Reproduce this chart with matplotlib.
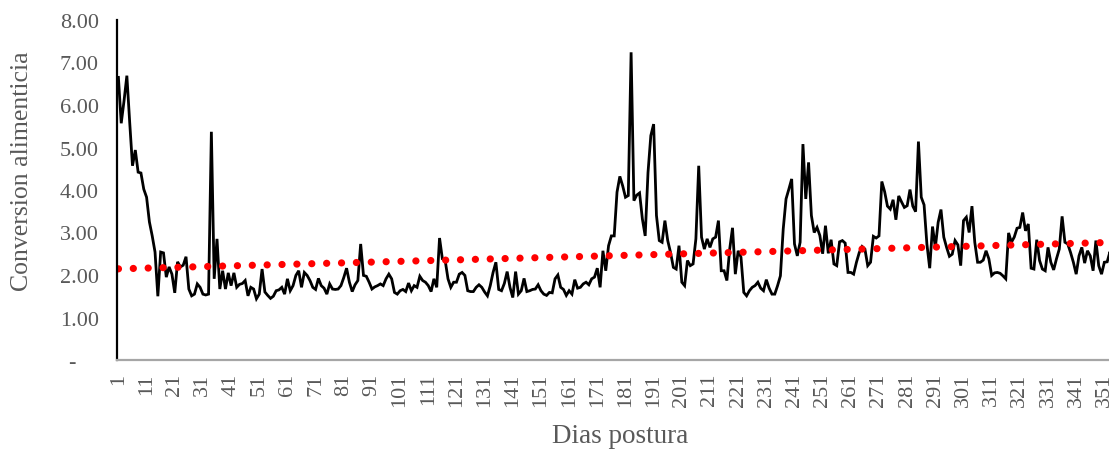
import numpy as np
import matplotlib
matplotlib.use("Agg")
import matplotlib.pyplot as plt

# daily feed conversion (day 1 .. 354)
conversion = [
    6.65, 5.57, 6.10, 6.69, 5.60, 4.57, 4.94, 4.42, 4.40, 4.02,
    3.83, 3.25, 2.92, 2.54, 1.50, 2.54, 2.52, 1.95, 2.19, 2.02,
    1.58, 2.31, 2.19, 2.23, 2.43, 1.67, 1.51, 1.55, 1.79, 1.71,
    1.55, 1.53, 1.55, 5.37, 1.91, 2.85, 1.67, 2.10, 1.67, 2.05,
    1.75, 2.05, 1.71, 1.78, 1.80, 1.87, 1.51, 1.71, 1.67, 1.44,
    1.55, 2.14, 1.60, 1.52, 1.45, 1.50, 1.63, 1.65, 1.71, 1.55,
    1.91, 1.63, 1.75, 1.99, 2.10, 1.71, 2.06, 1.99, 1.87, 1.71,
    1.66, 1.92, 1.75, 1.69, 1.55, 1.79, 1.67, 1.66, 1.67, 1.75,
    1.94, 2.16, 1.83, 1.61, 1.77, 1.87, 2.73, 1.99, 1.97, 1.83,
    1.67, 1.72, 1.75, 1.79, 1.75, 1.91, 2.02, 1.91, 1.59, 1.55,
    1.63, 1.66, 1.61, 1.81, 1.63, 1.75, 1.71, 1.97, 1.87, 1.83,
    1.75, 1.61, 1.91, 1.71, 2.87, 2.38, 2.34, 1.91, 1.71, 1.83,
    1.83, 2.02, 2.06, 1.99, 1.63, 1.61, 1.61, 1.71, 1.77, 1.71,
    1.60, 1.51, 1.75, 2.06, 2.30, 1.66, 1.63, 1.80, 2.08, 1.71,
    1.47, 2.08, 1.55, 1.63, 1.92, 1.61, 1.63, 1.66, 1.67, 1.77,
    1.63, 1.55, 1.52, 1.59, 1.58, 1.91, 2.00, 1.71, 1.66, 1.52,
    1.63, 1.55, 1.89, 1.69, 1.71, 1.79, 1.83, 1.77, 1.91, 1.95,
    2.16, 1.71, 2.57, 2.10, 2.69, 2.92, 2.92, 3.95, 4.32, 4.10,
    3.83, 3.87, 7.24, 3.75, 3.88, 3.93, 3.32, 2.92, 4.41, 5.28,
    5.55, 3.40, 2.81, 2.77, 3.28, 2.81, 2.53, 2.18, 2.14, 2.69,
    1.83, 1.75, 2.34, 2.22, 2.26, 2.85, 4.57, 2.89, 2.61, 2.85,
    2.65, 2.85, 2.89, 3.28, 2.10, 2.10, 1.87, 2.61, 3.11, 2.02,
    2.57, 2.42, 1.59, 1.51, 1.63, 1.71, 1.75, 1.83, 1.69, 1.63,
    1.89, 1.69, 1.55, 1.55, 1.75, 1.98, 3.08, 3.79, 4.02, 4.26,
    2.73, 2.45, 2.77, 5.08, 3.79, 4.65, 3.40, 3.00, 3.12, 2.93,
    2.50, 3.16, 2.51, 2.83, 2.26, 2.22, 2.78, 2.81, 2.75, 2.06,
    2.06, 2.02, 2.30, 2.53, 2.67, 2.61, 2.22, 2.30, 2.91, 2.87,
    2.92, 4.20, 3.96, 3.62, 3.55, 3.77, 3.30, 3.86, 3.72, 3.59,
    3.63, 4.01, 3.62, 3.49, 5.14, 3.83, 3.65, 2.73, 2.16, 3.14,
    2.65, 3.24, 3.54, 2.89, 2.65, 2.44, 2.49, 2.81, 2.71, 2.22,
    3.28, 3.36, 3.00, 3.62, 2.77, 2.30, 2.30, 2.35, 2.57, 2.38,
    1.99, 2.05, 2.06, 2.04, 1.98, 1.91, 2.99, 2.77, 2.89, 3.10,
    3.12, 3.47, 3.04, 3.20, 2.16, 2.14, 2.83, 2.34, 2.14, 2.10,
    2.65, 2.30, 2.12, 2.38, 2.61, 3.38, 2.77, 2.73, 2.53, 2.30,
    2.02, 2.45, 2.65, 2.28, 2.57, 2.45, 2.10, 2.81, 2.22, 2.02,
    2.30, 2.31, 2.55, 2.25,
]
dias = np.arange(1, len(conversion) + 1)
xtick_days = list(range(1, 361, 10))
ytick_vals = [0, 1, 2, 3, 4, 5, 6, 7, 8]
ytick_labels = ["-    ", "1.00", "2.00", "3.00", "4.00", "5.00", "6.00", "7.00", "8.00"]

plt.rcParams["font.family"] = ["Liberation Serif", "DejaVu Serif"]
grey = "#595959"

fig = plt.figure(figsize=(11.09, 4.52), dpi=100)
n_axis = 365
ax = fig.add_axes([117 / 1109, 91 / 452, n_axis * 2.817 / 1109, 340 / 452])

ax.plot(dias, conversion, color="black", lw=2.0, solid_joinstyle="miter")

# linear trend, as the spreadsheet draws it
coef = np.polyfit(dias, conversion, 1)
ax.plot(dias, np.polyval(coef, dias), color="#ff0000", lw=5.2,
        linestyle=(0, (0.01, 2.05)), dash_capstyle="round")

ax.set_xlim(0.5, n_axis + 0.5)
ax.set_ylim(0, 8)
ax.set_yticks(ytick_vals)
ax.set_yticklabels(ytick_labels)
ax.set_xticks(xtick_days)
ax.set_xticklabels([str(d) for d in xtick_days], rotation=90)
ax.tick_params(axis="both", length=0, labelsize=16, labelcolor=grey)
ax.tick_params(axis="y", pad=13)
ax.tick_params(axis="x", pad=9)

for side in ["top", "right"]:
    ax.spines[side].set_visible(False)
ax.spines["left"].set_color("black")
ax.spines["left"].set_linewidth(1.6)
ax.spines["bottom"].set_color("#a6a6a6")
ax.spines["bottom"].set_linewidth(1.6)

fig.text(22 / 1109, 1 - 171 / 452, "Conversion alimenticia", fontsize=18.5,
         color=grey, rotation=90, ha="center", va="center")
fig.text(620 / 1109, 1 - 437 / 452, "Dias postura", fontsize=19.5, color=grey,
         ha="center", va="center")

fig.savefig("out.png", dpi=100)
